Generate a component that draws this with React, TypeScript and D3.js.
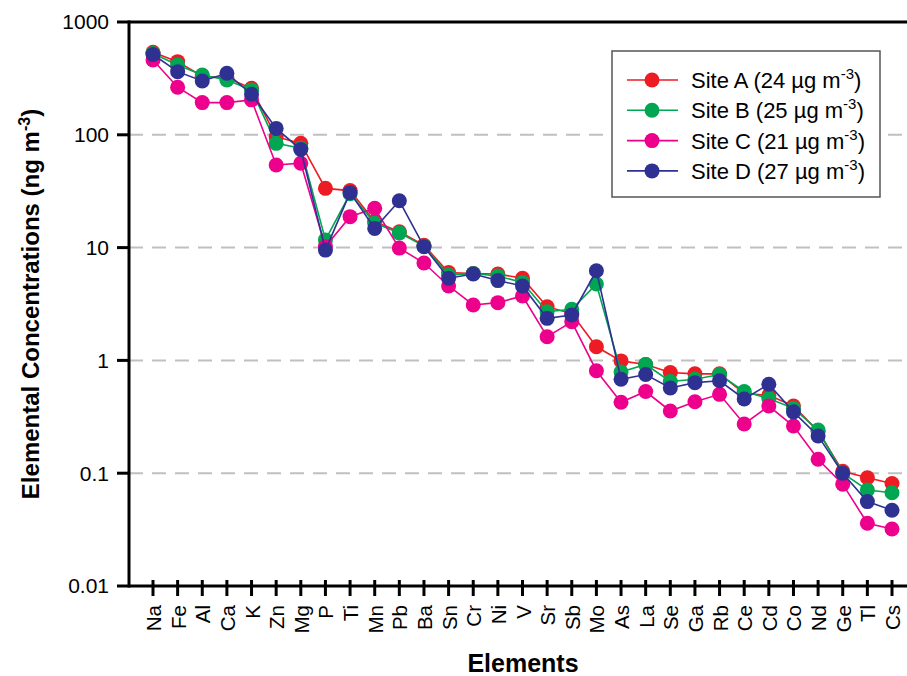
import { useRef, useEffect } from 'react';
import * as d3 from 'd3';

const FONT = '"Liberation Sans", Arial, sans-serif';

const ELEMENTS = ['Na', 'Fe', 'Al', 'Ca', 'K', 'Zn', 'Mg', 'P', 'Ti', 'Mn', 'Pb', 'Ba', 'Sn', 'Cr', 'Ni', 'V',
  'Sr', 'Sb', 'Mo', 'As', 'La', 'Se', 'Ga', 'Rb', 'Ce', 'Cd', 'Co', 'Nd', 'Ge', 'Tl', 'Cs'];

const SITE_A = [540, 445, 330, 320, 258, 96, 84, 33.5, 32, 17, 13.8, 10.5, 6.0, 5.9, 5.84, 5.35,
  2.99, 2.6, 1.32, 0.99, 0.92, 0.78, 0.76, 0.76, 0.51, 0.49, 0.394, 0.235, 0.104, 0.091, 0.081];
const SITE_B = [525, 416, 339, 306, 250, 84, 76, 11.7, 30, 16.5, 13.5, 10.3, 5.7, 5.9, 5.6, 4.9,
  2.7, 2.84, 4.75, 0.79, 0.92, 0.65, 0.68, 0.75, 0.53, 0.46, 0.376, 0.241, 0.1, 0.071, 0.067];
const SITE_C = [460, 264, 193, 193, 204, 54, 56, 10.2, 18.8, 22.3, 9.9, 7.3, 4.57, 3.1, 3.25, 3.72,
  1.62, 2.2, 0.81, 0.425, 0.53, 0.356, 0.43, 0.5, 0.273, 0.394, 0.262, 0.133, 0.08, 0.036, 0.032];
const SITE_D = [515, 363, 300, 351, 229, 114, 74, 9.5, 30.7, 14.8, 26, 10.2, 5.35, 5.84, 5.1, 4.57,
  2.36, 2.53, 6.23, 0.68, 0.75, 0.57, 0.635, 0.66, 0.455, 0.614, 0.35, 0.214, 0.1, 0.056, 0.047];

const SITES = [
  { name: 'Site A (24 \u00b5g m', values: SITE_A, color: '#ED1C24' },
  { name: 'Site B (25 \u00b5g m', values: SITE_B, color: '#00A651' },
  { name: 'Site C (21 \u00b5g m', values: SITE_C, color: '#EC008C' },
  { name: 'Site D (27 \u00b5g m', values: SITE_D, color: '#2E3192' },
];

const Y_TICKS = [0.01, 0.1, 1, 10, 100, 1000];
const Y_TICK_LABELS = ['0.01', '0.1', '1', '10', '100', '1000'];
const GRID_VALUES = [0.1, 1, 10, 100];

const W = 907;
const H = 676;
const LEFT = 129;
const TOP = 22;
const BOTTOM = 586;

const App = () => {
  const svgRef = useRef(null);

  useEffect(() => {
    const svg = d3.select(svgRef.current);
    svg.selectAll('*').remove();

    const x = d3.scalePoint().domain(ELEMENTS).range([153, 892]);
    const y = d3.scaleLog().domain([0.01, 1000]).range([BOTTOM, TOP]);

    // grid
    svg.append('g')
      .selectAll('line')
      .data(GRID_VALUES)
      .join('line')
      .attr('x1', LEFT)
      .attr('x2', W)
      .attr('y1', (d) => y(d))
      .attr('y2', (d) => y(d))
      .attr('stroke', '#c0c0c0')
      .attr('stroke-width', 2)
      .attr('stroke-dasharray', '14,9');

    // frame lines
    const axisG = svg.append('g').attr('stroke', 'black').attr('stroke-width', 3);
    axisG.append('line').attr('x1', LEFT).attr('x2', W).attr('y1', TOP).attr('y2', TOP);
    axisG.append('line').attr('x1', LEFT).attr('x2', W).attr('y1', BOTTOM).attr('y2', BOTTOM);
    axisG.append('line').attr('x1', LEFT).attr('x2', LEFT).attr('y1', TOP - 1.5).attr('y2', BOTTOM + 1.5);

    // y ticks
    axisG.selectAll('.yt')
      .data(Y_TICKS)
      .join('line')
      .attr('x1', LEFT - 12)
      .attr('x2', LEFT)
      .attr('y1', (d) => y(d))
      .attr('y2', (d) => y(d));

    svg.append('g')
      .selectAll('text')
      .data(Y_TICKS)
      .join('text')
      .attr('x', LEFT - 20)
      .attr('y', (d) => y(d))
      .attr('dy', '0.35em')
      .attr('text-anchor', 'end')
      .attr('font-family', FONT)
      .attr('font-size', 21)
      .text((d, i) => Y_TICK_LABELS[i]);

    // x ticks
    axisG.selectAll('.xt')
      .data(ELEMENTS)
      .join('line')
      .attr('x1', (d) => x(d))
      .attr('x2', (d) => x(d))
      .attr('y1', BOTTOM - 6)
      .attr('y2', BOTTOM + 10);

    svg.append('g')
      .selectAll('text')
      .data(ELEMENTS)
      .join('text')
      .attr('transform', (d) => `translate(${x(d) + 8},605) rotate(-90)`)
      .attr('text-anchor', 'end')
      .attr('font-family', FONT)
      .attr('font-size', 20.5)
      .text((d) => d);

    // axis titles
    const yTitle = svg.append('text')
      .attr('transform', `translate(39,${(TOP + BOTTOM) / 2}) rotate(-90)`)
      .attr('text-anchor', 'middle')
      .attr('font-family', FONT)
      .attr('font-size', 24)
      .attr('font-weight', 'bold');
    yTitle.append('tspan').text('Elemental Concentrations (ng m');
    yTitle.append('tspan').attr('dy', -9).attr('font-size', 16).text('-3');
    yTitle.append('tspan').attr('dy', 9).text(')');

    svg.append('text')
      .attr('x', 523)
      .attr('y', 672)
      .attr('text-anchor', 'middle')
      .attr('font-family', FONT)
      .attr('font-size', 25)
      .attr('font-weight', 'bold')
      .text('Elements');

    // series
    const line = d3.line()
      .x((d, i) => x(ELEMENTS[i]))
      .y((d) => y(d));

    SITES.forEach((s) => {
      const g = svg.append('g');
      g.append('path')
        .attr('d', line(s.values))
        .attr('fill', 'none')
        .attr('stroke', s.color)
        .attr('stroke-width', 1.6);
      g.selectAll('circle')
        .data(s.values)
        .join('circle')
        .attr('cx', (d, i) => x(ELEMENTS[i]))
        .attr('cy', (d) => y(d))
        .attr('r', 7.5)
        .attr('fill', s.color);
    });

    // legend
    const lg = svg.append('g');
    lg.append('rect')
      .attr('x', 612)
      .attr('y', 51)
      .attr('width', 268)
      .attr('height', 146)
      .attr('fill', 'white')
      .attr('stroke', '#555')
      .attr('stroke-width', 1.5);

    SITES.forEach((s, i) => {
      const ry = 80 + i * 30.3;
      lg.append('line')
        .attr('x1', 627)
        .attr('x2', 678)
        .attr('y1', ry)
        .attr('y2', ry)
        .attr('stroke', s.color)
        .attr('stroke-width', 1.6);
      lg.append('circle').attr('cx', 652).attr('cy', ry).attr('r', 7.5).attr('fill', s.color);
      const t = lg.append('text')
        .attr('x', 691)
        .attr('y', ry + 8)
        .attr('font-family', FONT)
        .attr('font-size', 22);
      t.append('tspan').text(s.name);
      t.append('tspan').attr('dy', -9).attr('font-size', 15).text('-3');
      t.append('tspan').attr('dy', 9).text(')');
    });
  }, []);

  return (
    <svg
      ref={svgRef}
      width={W}
      height={H}
      style={{ position: 'absolute', left: 0, top: 0, background: 'white' }}
    />
  );
};

export default App;
